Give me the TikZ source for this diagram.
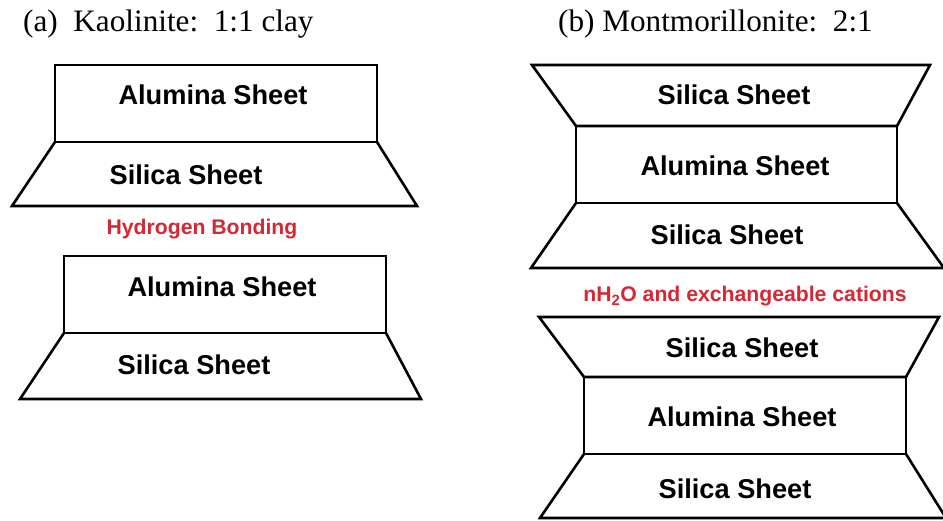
\documentclass[tikz,border=0pt]{standalone}
\usepackage{fontspec}
\setmainfont{Liberation Serif}
\newfontfamily\labelfont{Liberation Sans}
\definecolor{bondred}{RGB}{214,40,52}
\tikzset{
  sheet/.style={draw=black, line width=2.6pt, line join=miter},
  sheetlabel/.style={anchor=base, inner sep=0pt, font=\labelfont\bfseries\fontsize{27.2}{31}\selectfont},
  bondlabel/.style={anchor=base, inner sep=0pt, text=bondred, font=\labelfont\bfseries\fontsize{21.2}{25}\selectfont},
  caption/.style={anchor=base west, inner sep=0pt, font=\fontsize{31.2}{37}\selectfont}
}
\begin{document}
\begin{tikzpicture}[x=1pt, y=-1pt]
\useasboundingbox (0,0) rectangle (943,521);

% ---------------- (a) Kaolinite ----------------
\node[caption] (capA) at (23,32) {(a)\ \ Kaolinite:\ \ 1:1 clay};

% first layer
\draw[sheet] (55,65) rectangle (377,142);
\draw[sheet] (55,142) -- (12,206) -- (417,206) -- (377,142);
\node[sheetlabel] (a1al) at (213,105) {Alumina Sheet};
\node[sheetlabel] (a1si) at (186,185) {Silica Sheet};

\node[bondlabel] (hbond) at (202,235) {Hydrogen Bonding};

% second layer
\draw[sheet] (64,256) rectangle (386,333);
\draw[sheet] (64,333) -- (20,399) -- (421,399) -- (386,333);
\node[sheetlabel] (a2al) at (222,297) {Alumina Sheet};
\node[sheetlabel] (a2si) at (194,375) {Silica Sheet};

% ---------------- (b) Montmorillonite ----------------
\node[caption] (capB) at (558,32) {(b)\ Montmorillonite:\ \ 2:1};

% first layer
\draw[sheet] (532,65) -- (930,65) -- (897,126) -- (576,126) -- cycle;
\draw[sheet] (576,126) rectangle (897,203);
\draw[sheet] (576,203) -- (531,268) -- (944,268) -- (897,203);
\node[sheetlabel] (b1si) at (734,105) {Silica Sheet};
\node[sheetlabel] (b1al) at (735,176) {Alumina Sheet};
\node[sheetlabel] (b1sj) at (727,245) {Silica Sheet};

\node[bondlabel] (water) at (745,302) {nH\textsubscript{2}O and exchangeable cations};

% second layer
\draw[sheet] (539,317) -- (939,317) -- (906,377) -- (584,377) -- cycle;
\draw[sheet] (584,377) rectangle (906,454);
\draw[sheet] (584,454) -- (540,518) -- (946,518) -- (906,454);
\node[sheetlabel] (b2si) at (742,358) {Silica Sheet};
\node[sheetlabel] (b2al) at (742,427) {Alumina Sheet};
\node[sheetlabel] (b2sj) at (735,498) {Silica Sheet};
\end{tikzpicture}
\end{document}
